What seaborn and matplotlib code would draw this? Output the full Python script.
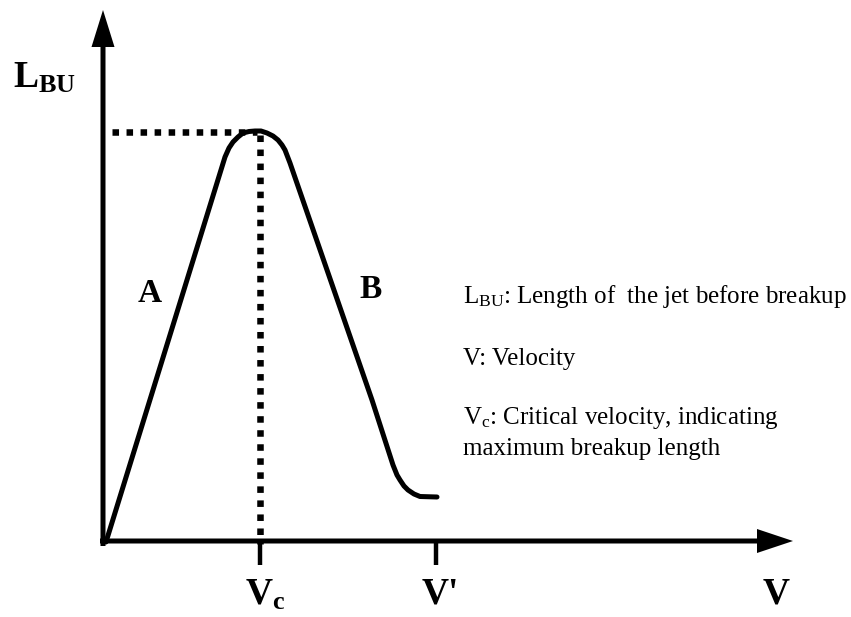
import matplotlib
matplotlib.use("Agg")
import matplotlib.pyplot as plt
import seaborn as sns
import pandas as pd

# breakup length curve (arbitrary units)
velocity = [2, 121, 125, 129, 134, 139, 145, 151, 157, 163, 169, 174, 178, 181,
            186, 268, 289, 293, 296, 300, 304, 310, 316, 333]
length_bu = [2, 387, 396, 402, 407, 411, 412.5, 413, 413, 411, 408, 404, 399, 394,
             381, 144, 79, 69, 64, 58, 54, 50, 47.5, 47]

v_crit = 156
v_prime = 332
l_max = 412

notes = [r"L$_{\mathrm{BU}}$: Length of  the jet before breakup",
         "V: Velocity",
         r"V$_{\mathrm{c}}$: Critical velocity, indicating",
         "maximum breakup length"]

sns.set_theme(style="white")
plt.rcParams["font.family"] = ["Liberation Serif", "DejaVu Serif"]
plt.rcParams["text.color"] = "black"
plt.rcParams["mathtext.fontset"] = "custom"
plt.rcParams["mathtext.rm"] = "Liberation Serif"
plt.rcParams["mathtext.it"] = "Liberation Serif:italic"
plt.rcParams["mathtext.bf"] = "Liberation Serif:bold"

fig = plt.figure(figsize=(8.51, 6.17), dpi=100)
ax = fig.add_axes([0, 0, 1, 1])
ax.set_xlim(-104, 747)
ax.set_ylim(-73, 544)
ax.axis("off")

df = pd.DataFrame({"V": velocity, "L": length_bu})
sns.lineplot(data=df, x="V", y="L", sort=False, estimator=None, color="black",
             lw=3.6, ax=ax, solid_capstyle="round")

# axes with arrow heads
ax.arrow(-4, 3, 693, 0, width=5, head_width=24, head_length=36,
         length_includes_head=True, color="black", lw=0)
ax.arrow(-1, -2, 0, 536, width=5, head_width=23, head_length=37,
         length_includes_head=True, color="black", lw=0)

# ticks at Vc and V'
ax.vlines([v_crit, v_prime], -21, 3, color="black", lw=3.2)

# dotted guides to the maximum
ax.plot([8, v_crit - 3], [l_max, l_max], color="black", lw=4.7,
        linestyle=(0, (1, 1.15)), dash_capstyle="butt")
ax.plot([v_crit, v_crit], [l_max - 3, 0], color="black", lw=4.7,
        linestyle=(0, (1, 1.15)), dash_capstyle="butt")

# labels
ax.text(-91, 456, r"$\mathbf{L_{BU}}$", fontsize=27, ha="left", va="baseline")
ax.text(46, 242, "A", fontsize=24, fontweight="bold", ha="center", va="baseline")
ax.text(267, 246, "B", fontsize=24, fontweight="bold", ha="center", va="baseline")
ax.text(141, -61, r"$\mathbf{V_c}$", fontsize=27, ha="left", va="baseline")
ax.text(318, -59, "V'", fontsize=27, fontweight="bold", ha="left", va="baseline")
ax.text(659, -59, "V", fontsize=27, fontweight="bold", ha="left", va="baseline")

for txt, yb in zip(notes, [241, 179, 120, 89]):
    ax.text(359, yb, txt, fontsize=18, ha="left", va="baseline")

plt.savefig("out.png", dpi=100)
